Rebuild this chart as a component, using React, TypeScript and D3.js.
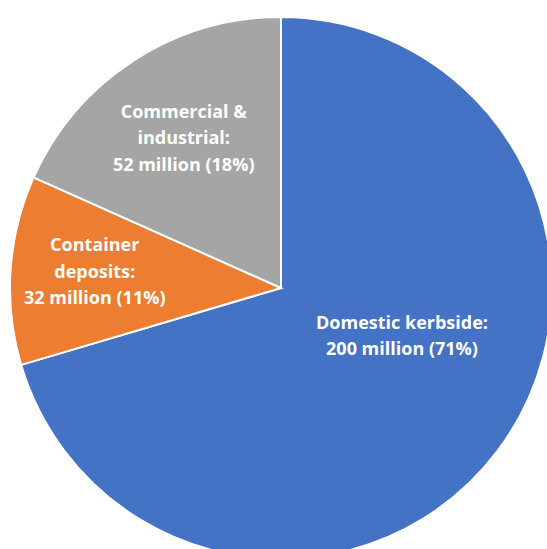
import React from "react";
import * as d3 from "d3";

const categories = ["Domestic kerbside", "Container deposits", "Commercial & industrial"];
const values = [200, 32, 52];
const labelLines = [
  ["Domestic kerbside:", "200 million (71%)"],
  ["Container", "deposits:", "32 million (11%)"],
  ["Commercial &", "industrial:", "52 million (18%)"],
];
const colors = ["#4472C4", "#ED7D31", "#A5A5A5"];

const W = 547;
const H = 549;
const CX = 281;
const CY = 288;
const R = 271;
// label anchor positions (angle fraction within slice, radius fraction)
const labelPlacement = [
  { t: 0.44, rf: 0.48 },
  { t: 0.53, rf: 0.69 },
  { t: 0.5, rf: 0.66 },
];

export default function App() {
  const pie = d3.pie<number>().sort(null).value((d) => d)(values);
  const arc = d3.arc<d3.PieArcDatum<number>>().innerRadius(0).outerRadius(R);
  const fontSize = 18;
  const lineH = 26.5;
  return (
    <svg
      width={W}
      height={H}
      style={{ position: "absolute", left: 0, top: 0, background: "#fff" }}
    >
      <g transform={`translate(${CX},${CY})`}>
        {pie.map((p, i) => (
          <path key={categories[i]} d={arc(p) || ""} fill={colors[i]} stroke="#fff" strokeWidth={2} />
        ))}
        {pie.map((p, i) => {
          const lp = labelPlacement[i];
          const a = p.startAngle + (p.endAngle - p.startAngle) * lp.t;
          const r = R * lp.rf;
          const x = Math.sin(a) * r;
          const y = -Math.cos(a) * r;
          const lines = labelLines[i];
          const y0 = y - ((lines.length - 1) * lineH) / 2;
          return (
            <text
              key={"l" + i}
              x={x}
              textAnchor="middle"
              fill="#fff"
              fontFamily="'Open Sans', sans-serif"
              fontWeight={700}
              fontSize={fontSize}
            >
              {lines.map((ln, j) => (
                <tspan key={j} x={x} y={y0 + j * lineH} dy="0.35em">
                  {ln}
                </tspan>
              ))}
            </text>
          );
        })}
      </g>
    </svg>
  );
}
